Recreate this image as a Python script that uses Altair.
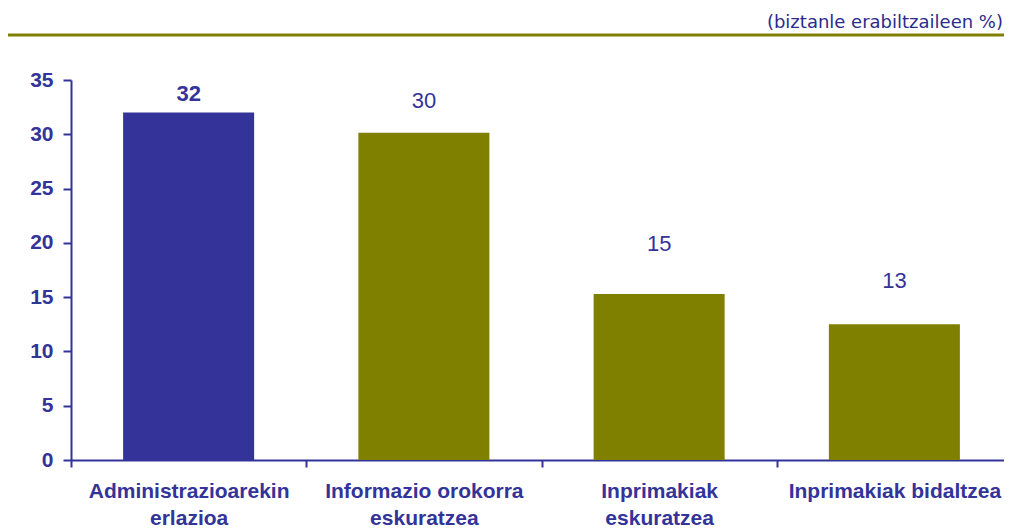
import altair as alt
import pandas as pd

categories = ["Administrazioarekin|erlazioa", "Informazio orokorra|eskuratzea",
              "Inprimakiak|eskuratzea", "Inprimakiak bidaltzea"]
values = [32.0, 30.15, 15.3, 12.5]
labels = ["32", "30", "15", "13"]
label_at = [33.05, 32.4, 19.25, 15.85]
bold = [True, False, False, False]
colors = ["#333399", "#808000", "#808000", "#808000"]
unit_note = "(biztanle erabiltzaileen %)"

df = pd.DataFrame({"cat": categories, "value": values, "label": labels,
                   "label_at": label_at, "bold": bold, "color": colors})

W, H = 933, 380
RANGE_W = 941
BLUE = "#333399"

xscale = alt.Scale(paddingInner=0, paddingOuter=0, range=[0, RANGE_W])
xenc = alt.X("cat:N", sort=categories, scale=xscale,
             axis=alt.Axis(title=None, labelAngle=0, tickBand="extent",
                           labelExpr="split(datum.label, '|')",
                           labelFont="Liberation Sans", labelFontSize=21,
                           labelFontWeight="bold", labelColor=BLUE,
                           labelLineHeight=27, labelPadding=13, labelLimit=400,
                           domainColor=BLUE, domainWidth=2,
                           tickColor=BLUE, tickWidth=2, tickSize=7,
                           labelBaseline="top"))

yscale = alt.Scale(domain=[0, 35], nice=False)

bars = alt.Chart(df).mark_bar(width=alt.RelativeBandSize(0.557)).encode(
    x=xenc,
    y=alt.Y("value:Q", scale=yscale,
            axis=alt.Axis(title=None, values=[0, 5, 10, 15, 20, 25, 30, 35],
                          grid=False, labelFont="Liberation Sans",
                          labelFontSize=21, labelFontWeight="bold",
                          labelColor=BLUE, labelPadding=10,
                          domainColor=BLUE, domainWidth=2,
                          tickColor=BLUE, tickWidth=2, tickSize=8)),
    color=alt.Color("color:N", scale=None),
)

txt_bold = alt.Chart(df).transform_filter("datum.bold").mark_text(
    font="Liberation Sans", fontSize=22, fontWeight="bold", color=BLUE,
    baseline="alphabetic"
).encode(x=alt.X("cat:N", sort=categories, scale=xscale),
         y=alt.Y("label_at:Q", scale=yscale), text="label:N")

txt_norm = alt.Chart(df).transform_filter("!datum.bold").mark_text(
    font="Liberation Sans", fontSize=22, color=BLUE, baseline="alphabetic"
).encode(x=alt.X("cat:N", sort=categories, scale=xscale),
         y=alt.Y("label_at:Q", scale=yscale), text="label:N")

top_rule = alt.Chart(pd.DataFrame({"a": [0]})).mark_rule(
    color="#808000", strokeWidth=3
).encode(x=alt.value(-63), x2=alt.value(W), y=alt.value(-45))

note = alt.Chart(pd.DataFrame({"t": [unit_note]})).mark_text(
    font="DejaVu Sans", fontSize=18, color="#2b2b8c", align="right",
    baseline="alphabetic"
).encode(x=alt.value(W - 1), y=alt.value(-52), text="t:N")

chart = alt.layer(bars, txt_bold, txt_norm, top_rule, note).properties(
    width=W, height=H,
    autosize=alt.AutoSizeParams(type="none"),
    padding={"left": 63, "top": 72, "right": 0, "bottom": 68},
).configure(background="white").configure_view(stroke=None)

chart.save("out.html", embed_options={"renderer": "svg", "actions": False})
